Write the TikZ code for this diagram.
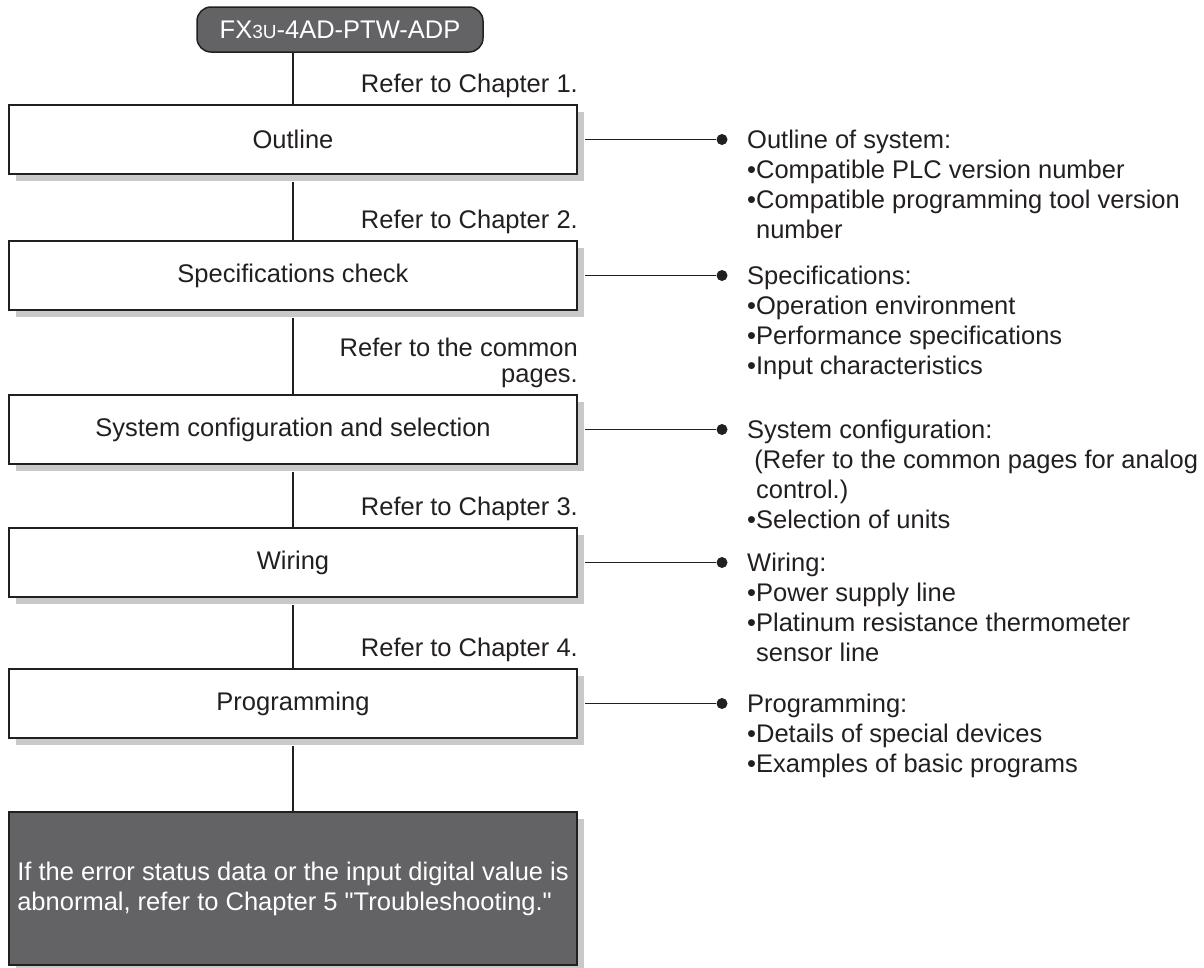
\documentclass[tikz,border=0pt]{standalone}
\usepackage{fontspec}
\setmainfont{Liberation Sans}
\usetikzlibrary{shadows}

\definecolor{ink}{HTML}{231F20}
\definecolor{slate}{HTML}{636366}
\definecolor{shade}{HTML}{C8C9CA}

\newcommand{\txt}{\fontsize{25.5}{30}\selectfont}
% straight quotes, without the tex-text mapping
\font\dqfont="Liberation Sans" at 25.5pt

\begin{document}
\begin{tikzpicture}[x=1pt, y=-1pt,
    stage/.style={draw=ink, line width=2pt, fill=white, minimum width=568pt, minimum height=69pt,
      inner sep=0pt, font=\txt, text=ink,
      general shadow={fill=shade, shadow xshift=7pt, shadow yshift=-7pt}},
    model/.style={draw=ink, line width=1.5pt, fill=slate, rounded corners=14pt, minimum width=286pt,
      minimum height=45pt, inner sep=0pt, font=\txt, text=white},
    link/.style={draw=ink, line width=1.9pt},
    dot/.style={circle, fill=ink, inner sep=0pt, minimum size=11pt},
    note/.style={anchor=north west, align=left, inner sep=0pt, font=\txt, text=ink},
    ref/.style={anchor=south east, align=right, inner sep=0pt, font=\txt, text=ink}]

    \useasboundingbox (0,0) rectangle (1204,967);

    % Module name
    \node[model] (model) at (340,29.5) {FX{\fontsize{19}{20}\selectfont 3U}-4AD-PTW-ADP};

    % Steps
    \node[stage] (outline) at (293,139.5) {Outline};
    \node[stage] (specs) at (293,275.5) {Specifications check};
    \node[stage] (syscfg) at (293,429.5) {System configuration and selection};
    \node[stage] (wiring) at (293,562.5) {Wiring};
    \node[stage] (prog) at (293,703.5) {Programming};
    \node[stage, fill=slate, text=white, minimum height=153pt, align=left] (trouble) at (293,888.5)
      {If the error status data or the input digital value is\\abnormal, refer to Chapter 5 {\dqfont"}Troubleshooting.{\dqfont"}};

    % Chapter references
    \node[ref] (ref1) at ([yshift=6pt]outline.north east) {Refer to Chapter 1.};
    \node[ref] (ref2) at ([yshift=6pt]specs.north east) {Refer to Chapter 2.};
    \node[ref, font=\fontsize{25.5}{26}\selectfont] (ref3) at ([yshift=6pt]syscfg.north east) {Refer to the common\\pages.};
    \node[ref] (ref4) at ([yshift=6pt]wiring.north east) {Refer to Chapter 3.};
    \node[ref] (ref5) at ([yshift=6pt]prog.north east) {Refer to Chapter 4.};

    % Flow line
    \draw[link] (model.south -| outline.north) -- (outline.north);
    \draw[link, shorten <=7pt] (outline) -- (specs);
    \draw[link, shorten <=7pt] (specs) -- (syscfg);
    \draw[link, shorten <=7pt] (syscfg) -- (wiring);
    \draw[link, shorten <=7pt] (wiring) -- (prog);
    \draw[link, shorten <=7pt] (prog) -- (trouble);

    % Contents of each step
    \node[dot] (d1) at (722,139.5) {};
    \node[dot] (d2) at (722,275.5) {};
    \node[dot] (d3) at (722,429.5) {};
    \node[dot] (d4) at (722,562.5) {};
    \node[dot] (d5) at (722,703.5) {};
    \draw[link, shorten <=7pt] (outline) -- (d1);
    \draw[link, shorten <=7pt] (specs) -- (d2);
    \draw[link, shorten <=7pt] (syscfg) -- (d3);
    \draw[link, shorten <=7pt] (wiring) -- (d4);
    \draw[link, shorten <=7pt] (prog) -- (d5);

    \node[note] (n1) at (747,129.5) {Outline of system:\\•Compatible PLC version number\\•Compatible programming tool version\\\phantom{•}number};
    \node[note] (n2) at (747,265.5) {Specifications:\\•Operation environment\\•Performance specifications\\•Input characteristics};
    \node[note] (n3) at (747,419.5) {System configuration:\\\hspace*{0.28em}(Refer to the common pages for analog\\\phantom{•}control.)\\•Selection of units};
    \node[note] (n4) at (747,552.5) {Wiring:\\•Power supply line\\•Platinum resistance thermometer\\\phantom{•}sensor line};
    \node[note] (n5) at (747,693.5) {Programming:\\•Details of special devices\\•Examples of basic programs};
\end{tikzpicture}
\end{document}
